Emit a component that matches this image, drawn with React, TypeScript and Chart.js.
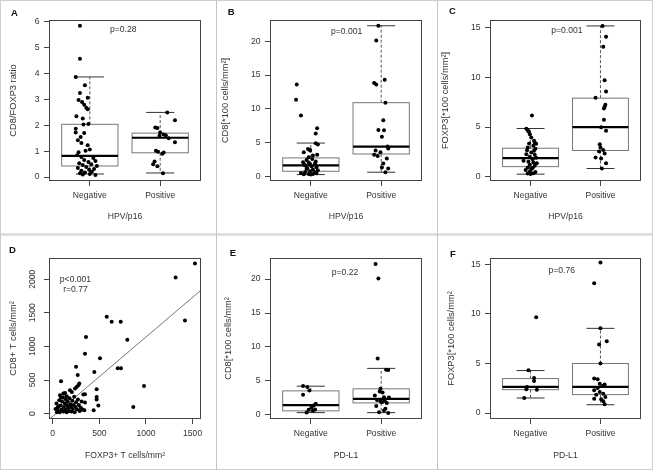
import React, { useEffect, useRef } from 'react';
import { Chart, registerables } from 'chart.js';

Chart.register(...registerables);

const FONT = "'Liberation Sans', Arial, Helvetica, sans-serif";

// ---------- shared ----------
const groupLabels = ['Negative', 'Positive'];
const groupTicks = [1, 2];

// ---------- Panel A : CD8/FOXP3 ratio by HPV/p16 ----------
const aYTicks = [0, 1, 2, 3, 4, 5, 6];
// box stats: [lower whisker, q1, median, q3, upper whisker]
const aBoxNeg = [0.12, 0.43, 0.82, 2.04, 3.87];
const aBoxPos = [0.16, 0.94, 1.52, 1.7, 2.5];
const aNegY = [5.85, 4.57, 3.87, 3.55, 3.25, 3.07, 2.98, 2.9, 2.8, 2.68, 2.62, 2.35, 2.26, 2.05, 2.03, 1.87, 1.72, 1.7, 1.55, 1.42, 1.32, 1.23, 1.07, 1.02, 0.96, 0.84, 0.78, 0.74, 0.66, 0.62, 0.58, 0.54, 0.5, 0.47, 0.43, 0.39, 0.35, 0.31, 0.28, 0.25, 0.21, 0.18, 0.15, 0.12, 0.1, 0.08];
const aNegX = [0.86, 0.86, 0.8, 0.93, 0.86, 0.97, 0.84, 0.89, 0.92, 0.95, 0.97, 0.81, 0.9, 0.98, 0.91, 0.8, 0.8, 0.92, 0.87, 0.83, 0.88, 0.97, 1.0, 0.94, 0.84, 0.82, 0.88, 1.05, 0.92, 1.08, 0.98, 0.85, 1.02, 0.9, 1.1, 0.95, 0.83, 1.06, 0.99, 0.88, 1.03, 0.93, 0.86, 1.0, 0.9, 1.08];
const aPosY = [2.5, 2.2, 1.92, 1.9, 1.72, 1.65, 1.62, 1.6, 1.5, 1.35, 1.02, 0.98, 0.95, 0.9, 0.6, 0.5, 0.42, 0.15];
const aPosX = [2.1, 2.21, 1.93, 1.96, 2.0, 2.05, 2.08, 1.99, 2.12, 2.21, 1.94, 1.97, 2.05, 2.03, 1.92, 1.9, 1.96, 2.04];

// ---------- Panel B : CD8 by HPV/p16 ----------
const bYTicks = [0, 5, 10, 15, 20];
const bBoxNeg = [0.25, 0.74, 1.6, 2.72, 4.92];
const bBoxPos = [0.6, 3.3, 4.38, 10.9, 22.3];
const bNegY = [13.6, 11.35, 9.0, 7.1, 6.35, 4.9, 4.7, 4.05, 3.9, 3.56, 3.8, 3.07, 3.2, 2.82, 2.57, 2.4, 2.2, 2.07, 2.05, 1.83, 1.9, 1.7, 1.58, 1.5, 1.33, 1.2, 1.09, 1.0, 0.9, 0.74, 0.64, 0.59, 0.5, 0.45, 0.35, 0.35, 0.3, 0.25];
const bNegX = [0.8, 0.79, 0.86, 1.09, 1.07, 1.07, 1.1, 0.96, 0.99, 0.9, 0.99, 1.03, 1.09, 0.97, 1.02, 0.94, 1.07, 0.89, 0.97, 0.99, 1.06, 0.91, 0.92, 1.01, 1.08, 0.95, 0.94, 1.03, 1.1, 0.99, 0.92, 1.06, 0.86, 1.08, 0.97, 1.03, 0.9, 1.0];
const bPosY = [22.3, 20.1, 14.3, 13.8, 13.6, 10.9, 8.3, 6.85, 6.8, 5.85, 4.4, 4.1, 3.8, 3.55, 3.2, 3.0, 2.65, 1.9, 1.3, 1.15, 0.6];
const bPosX = [1.96, 1.93, 2.05, 1.9, 1.93, 2.06, 2.03, 1.96, 2.04, 2.01, 2.09, 2.1, 1.92, 1.99, 1.9, 1.95, 2.08, 2.03, 2.01, 2.1, 2.06];

// ---------- Panel C : FOXP3 by HPV/p16 ----------
const cYTicks = [0, 5, 10, 15];
const cBoxNeg = [0.24, 1.0, 1.85, 2.86, 4.85];
const cBoxPos = [0.81, 2.63, 4.98, 7.91, 15.2];
const cNegY = [6.16, 4.82, 4.7, 4.55, 4.28, 3.94, 3.6, 3.43, 3.33, 3.3, 3.1, 2.93, 2.8, 2.66, 2.6, 2.42, 2.26, 2.2, 1.99, 1.9, 1.75, 1.59, 1.5, 1.41, 1.35, 1.18, 1.1, 0.91, 0.85, 0.75, 0.65, 0.51, 0.45, 0.34, 0.3, 0.25];
const cNegX = [1.02, 0.94, 0.96, 0.97, 0.99, 1.01, 1.05, 1.06, 0.98, 1.08, 1.04, 0.96, 1.07, 0.95, 1.05, 1.01, 0.94, 1.06, 0.99, 1.08, 1.03, 0.9, 0.97, 1.04, 1.09, 0.99, 1.06, 0.96, 1.03, 1.01, 0.93, 0.99, 1.07, 1.04, 0.96, 1.0];
const cPosY = [15.2, 14.1, 13.1, 9.73, 8.59, 7.95, 7.24, 7.04, 6.87, 5.72, 4.98, 4.61, 3.27, 2.93, 2.69, 2.53, 2.32, 1.92, 1.82, 1.35, 0.81];
const cPosX = [2.03, 2.08, 2.04, 2.06, 2.08, 1.93, 2.07, 2.06, 2.05, 2.05, 2.01, 2.08, 1.99, 2.0, 2.04, 1.98, 2.06, 1.93, 2.01, 2.08, 2.02];

// ---------- Panel D : CD8+ vs FOXP3+ scatter ----------
const dXTicks = [0, 500, 1000, 1500];
const dYTicks = [0, 500, 1000, 1500, 2000];
const dX = [1525, 1318, 1418, 579, 632, 729, 800, 357, 346, 507, 250, 268, 446, 697, 732, 89, 979, 864, 471, 471, 471, 489, 439, 346, 328, 346, 339, 274, 257, 239, 285, 185, 132, 114, 78,
  40, 55, 60, 70, 75, 85, 95, 100, 110, 115, 120, 130, 135, 140, 150, 155, 160, 165, 175, 180, 190, 195, 200, 210, 215, 225, 230, 235, 245, 250, 260, 270, 280, 290, 300, 310, 320, 60, 90, 30, 45, 205, 150, 125];
const dY = [2235, 2025, 1385, 1440, 1365, 1365, 1100, 1140, 890, 825, 697, 576, 621, 676, 676, 482, 412, 99, 363, 248, 209, 119, 49, 288, 283, 164, 49, 422, 397, 373, 447, 348, 307, 298, 273,
  150, 90, 40, 200, 20, 120, 60, 180, 240, 30, 100, 150, 60, 210, 20, 120, 180, 80, 40, 230, 140, 100, 30, 190, 70, 130, 250, 20, 100, 170, 60, 210, 130, 40, 90, 180, 60, 110, 240, 70, 20, 320, 260, 300];
const dRegIntercept = -40;
const dRegSlope = 1.18;

// ---------- Panel E : CD8 by PD-L1 ----------
const eYTicks = [0, 5, 10, 15, 20];
const eBoxNeg = [0.34, 0.6, 1.45, 3.54, 4.23];
const eBoxPos = [0.34, 1.77, 2.36, 3.84, 6.85];
const eNegY = [4.24, 4.1, 3.6, 2.96, 1.65, 1.4, 1.1, 0.8, 0.75, 0.6, 0.35];
const eNegX = [0.89, 0.95, 0.98, 0.89, 1.07, 1.04, 1.01, 1.06, 0.97, 1.03, 0.94];
const ePosY = [22.2, 20.1, 8.3, 6.65, 6.6, 3.84, 3.45, 3.3, 2.86, 2.6, 2.55, 2.2, 2.0, 2.1, 1.85, 1.75, 1.3, 0.9, 0.65, 0.4, 0.3];
const ePosX = [1.92, 1.96, 1.95, 2.07, 2.1, 1.99, 1.98, 2.02, 1.91, 2.04, 2.11, 1.94, 1.99, 2.05, 2.01, 2.08, 1.93, 2.06, 2.04, 1.97, 2.1];

// ---------- Panel F : FOXP3 by PD-L1 ----------
const fYTicks = [0, 5, 10, 15];
const fBoxNeg = [1.52, 2.36, 2.64, 3.48, 4.29];
const fBoxPos = [0.84, 1.86, 2.64, 5.0, 8.55];
const fNegY = [9.66, 4.32, 3.55, 3.24, 2.64, 2.4, 2.36, 1.52];
const fNegX = [1.08, 0.97, 1.05, 1.05, 0.95, 0.94, 1.09, 0.91];
const fPosY = [15.2, 13.1, 8.55, 7.26, 6.93, 5.0, 3.48, 3.41, 2.97, 2.74, 2.87, 2.53, 2.3, 2.13, 1.96, 1.86, 1.62, 1.45, 1.39, 1.18, 0.88];
const fPosX = [2.0, 1.91, 2.0, 2.09, 1.98, 2.0, 1.91, 1.96, 1.99, 2.03, 2.06, 1.96, 1.91, 1.99, 2.04, 1.94, 2.07, 1.91, 2.01, 2.04, 2.06];

// ---------- layout helpers ----------
type Spec = {
  key: string;
  letter: string;
  letterPos: [number, number];
  cell: [number, number, number, number];
  box: [number, number, number, number];
  xRange: [number, number];
  yRange: [number, number];
  xTicks: number[];
  xLabel: (v: number) => string;
  yTicks: number[];
  yRot?: boolean;
  xTitle: string;
  xTitleY: number;
  yTitle: string;
  yTitleX: number;
  boxes: number[][];
  series: { x: number[]; y: number[] }[];
  notes: { text: string; x: number; y: number }[];
  reg?: [number, number];
};

const catLabel = (v: number) => groupLabels[groupTicks.indexOf(v)] ?? '';
const numLabel = (v: number) => String(v);

const COL1: [number, number] = [0, 216];
const COL2: [number, number] = [216, 221];
const COL3: [number, number] = [437, 216];
const ROW1: [number, number] = [0, 235];
const ROW2: [number, number] = [235, 235];

const PANELS: Spec[] = [
  {
    key: 'A', letter: 'A', letterPos: [14.5, 13],
    cell: [COL1[0], ROW1[0], COL1[1], ROW1[1]], box: [49, 20, 201, 181],
    xRange: [0.42, 2.58], yRange: [-0.15, 6.07],
    xTicks: groupTicks, xLabel: catLabel, yTicks: aYTicks,
    xTitle: 'HPV/p16', xTitleY: 216.7, yTitle: 'CD8/FOXP3 ratio', yTitleX: 13.5,
    boxes: [aBoxNeg, aBoxPos], series: [{ x: aNegX, y: aNegY }, { x: aPosX, y: aPosY }],
    notes: [{ text: 'p=0.28', x: 1.475, y: 5.71 }],
  },
  {
    key: 'B', letter: 'B', letterPos: [231.3, 12.5],
    cell: [COL2[0], ROW1[0], COL2[1], ROW1[1]], box: [270, 20, 422, 181],
    xRange: [0.42, 2.58], yRange: [-0.7, 23.15],
    xTicks: groupTicks, xLabel: catLabel, yTicks: bYTicks,
    xTitle: 'HPV/p16', xTitleY: 216.7, yTitle: 'CD8[*100 cells/mm²]', yTitleX: 225,
    boxes: [bBoxNeg, bBoxPos], series: [{ x: bNegX, y: bNegY }, { x: bPosX, y: bPosY }],
    notes: [{ text: 'p=0.001', x: 1.51, y: 21.5 }],
  },
  {
    key: 'C', letter: 'C', letterPos: [452.5, 11.7],
    cell: [COL3[0], ROW1[0], COL3[1], ROW1[1]], box: [490, 20, 641, 181],
    xRange: [0.42, 2.58], yRange: [-0.45, 15.8],
    xTicks: groupTicks, xLabel: catLabel, yTicks: cYTicks,
    xTitle: 'HPV/p16', xTitleY: 216.7, yTitle: 'FOXP3[*100 cells/mm²]', yTitleX: 445.5,
    boxes: [cBoxNeg, cBoxPos], series: [{ x: cNegX, y: cNegY }, { x: cPosX, y: cPosY }],
    notes: [{ text: 'p=0.001', x: 1.52, y: 14.69 }],
  },
  {
    key: 'D', letter: 'D', letterPos: [12.5, 250.5],
    cell: [COL1[0], ROW2[0], COL1[1], ROW2[1]], box: [49, 258, 201, 419],
    xRange: [-40, 1590], yRange: [-80, 2315],
    xTicks: dXTicks, xLabel: numLabel, yTicks: dYTicks, yRot: true,
    xTitle: 'FOXP3+ T cells/mm²', xTitleY: 455.7, yTitle: 'CD8+ T cells/mm²', yTitleX: 13.5,
    boxes: [], series: [{ x: dX, y: dY }],
    notes: [{ text: 'p<0.001', x: 244, y: 1988 }, { text: 'r=0.77', x: 244, y: 1839 }],
    reg: [dRegIntercept, dRegSlope],
  },
  {
    key: 'E', letter: 'E', letterPos: [233, 253.5],
    cell: [COL2[0], ROW2[0], COL2[1], ROW2[1]], box: [270, 258, 422, 419],
    xRange: [0.42, 2.58], yRange: [-0.6, 23.1],
    xTicks: groupTicks, xLabel: catLabel, yTicks: eYTicks,
    xTitle: 'PD-L1', xTitleY: 455.7, yTitle: 'CD8[*100 cells/mm²', yTitleX: 228.3,
    boxes: [eBoxNeg, eBoxPos], series: [{ x: eNegX, y: eNegY }, { x: ePosX, y: ePosY }],
    notes: [{ text: 'p=0.22', x: 1.485, y: 21.0 }],
  },
  {
    key: 'F', letter: 'F', letterPos: [452.8, 254],
    cell: [COL3[0], ROW2[0], COL3[1], ROW2[1]], box: [490, 258, 641, 419],
    xRange: [0.42, 2.58], yRange: [-0.6, 15.65],
    xTicks: groupTicks, xLabel: catLabel, yTicks: fYTicks,
    xTitle: 'PD-L1', xTitleY: 455.7, yTitle: 'FOXP3[*100 cells/mm²', yTitleX: 451,
    boxes: [fBoxNeg, fBoxPos], series: [{ x: fNegX, y: fNegY }, { x: fPosX, y: fPosY }],
    notes: [{ text: 'p=0.76', x: 1.446, y: 14.34 }],
  },
];

const TICK_SIZE = 8.6;
const XTITLE_SIZE = 8.6;
const YTITLE_SIZE = 9.3;
const TEXT = '#333';

const decoPlugin = {
  id: 'deco',
  beforeDatasetsDraw(chart: any, _a: any, opts: any) {
    const { ctx } = chart;
    const xs = chart.scales.x;
    const ys = chart.scales.y;
    const line = (x1: number, y1: number, x2: number, y2: number) => {
      ctx.beginPath();
      ctx.moveTo(x1, y1);
      ctx.lineTo(x2, y2);
      ctx.stroke();
    };
    (opts.boxes || []).forEach((b: number[], i: number) => {
      const pos = groupTicks[i];
      const cx = xs.getPixelForValue(pos);
      const hw = xs.getPixelForValue(pos + 0.4) - cx;
      const cw = hw / 2;
      const [lo, q1, med, q3, hi] = b.map((v) => ys.getPixelForValue(v));
      ctx.save();
      ctx.lineWidth = 1;
      ctx.strokeStyle = '#555';
      ctx.setLineDash([3, 2]);
      line(cx, q3, cx, hi);
      line(cx, q1, cx, lo);
      ctx.setLineDash([]);
      ctx.strokeStyle = '#333';
      line(cx - cw, hi, cx + cw, hi);
      line(cx - cw, lo, cx + cw, lo);
      ctx.strokeStyle = '#777';
      ctx.strokeRect(cx - hw, q3, hw * 2, q1 - q3);
      ctx.strokeStyle = '#000';
      ctx.lineWidth = 2.2;
      line(cx - hw, med, cx + hw, med);
      ctx.restore();
    });
  },
  afterDraw(chart: any, _a: any, opts: any) {
    const { ctx, chartArea } = chart;
    const xs = chart.scales.x;
    const ys = chart.scales.y;
    ctx.save();
    ctx.strokeStyle = '#444';
    ctx.lineWidth = 1;
    ctx.strokeRect(
      Math.round(chartArea.left) + 0.5,
      Math.round(chartArea.top) + 0.5,
      Math.round(chartArea.right - chartArea.left) - 1,
      Math.round(chartArea.bottom - chartArea.top) - 1
    );
    ctx.fillStyle = TEXT;
    ctx.textAlign = 'center';
    ctx.textBaseline = 'middle';
    ctx.font = `${TICK_SIZE}px ${FONT}`;
    (opts.notes || []).forEach((n: any) => {
      ctx.fillText(n.text, xs.getPixelForValue(n.x), ys.getPixelForValue(n.y));
    });
    ctx.fillStyle = '#111';
    ctx.font = `bold 9.5px ${FONT}`;
    ctx.fillText(opts.letter, opts.lx, opts.ly);
    ctx.restore();
  },
};

function makeConfig(s: Spec): any {
  const [cx, cy, cw, ch] = s.cell;
  const [bl, bt, br, bb] = s.box;
  const tickFont = { family: FONT, size: TICK_SIZE };
  const datasets: any[] = s.series.map((sr) => ({
    type: 'scatter',
    data: sr.x.map((x, i) => ({ x, y: sr.y[i] })),
    backgroundColor: '#000',
    borderColor: '#000',
    borderWidth: 0,
    pointRadius: 2,
    pointHoverRadius: 2,
    order: 1,
  }));
  if (s.reg) {
    const [a, b] = s.reg;
    datasets.push({
      type: 'line',
      data: s.xRange.map((x) => ({ x, y: a + b * x })),
      borderColor: '#777',
      borderWidth: 1,
      pointRadius: 0,
      fill: false,
      order: 2,
    });
  }
  const xLh = XTITLE_SIZE * 1.2;
  const yLh = YTITLE_SIZE * 1.2;
  return {
    type: 'scatter',
    data: { datasets },
    plugins: [decoPlugin],
    options: {
      animation: false,
      responsive: false,
      maintainAspectRatio: false,
      devicePixelRatio: 1,
      events: [],
      layout: { padding: { left: 0, top: bt - cy, right: cx + cw - br, bottom: 0 } },
      plugins: {
        legend: { display: false },
        tooltip: { enabled: false },
        deco: {
          boxes: s.boxes,
          notes: s.notes,
          letter: s.letter,
          lx: s.letterPos[0] - cx,
          ly: s.letterPos[1] - cy,
        },
      },
      scales: {
        x: {
          type: 'linear',
          min: s.xRange[0],
          max: s.xRange[1],
          afterBuildTicks: (sc: any) => {
            sc.ticks = s.xTicks.map((v) => ({ value: v }));
          },
          afterFit: (sc: any) => {
            sc.height = ch - (bb - cy);
          },
          ticks: {
            font: tickFont,
            color: TEXT,
            padding: 4,
            autoSkip: false,
            minRotation: 0,
            maxRotation: 0,
            callback: (v: any) => s.xLabel(Number(v)),
          },
          grid: { display: true, drawOnChartArea: false, drawTicks: true, tickLength: 5, color: '#444', lineWidth: 1 },
          border: { display: false },
          title: {
            display: true,
            text: s.xTitle,
            color: TEXT,
            font: { family: FONT, size: XTITLE_SIZE },
            padding: { top: 0, bottom: ch - (s.xTitleY - cy) - xLh / 2 },
          },
        },
        y: {
          type: 'linear',
          min: s.yRange[0],
          max: s.yRange[1],
          afterBuildTicks: (sc: any) => {
            sc.ticks = s.yTicks.map((v) => ({ value: v }));
          },
          afterFit: (sc: any) => {
            sc.width = bl - cx;
          },
          ticks: s.yRot
            ? {
                font: tickFont,
                color: TEXT,
                padding: 1.5,
                autoSkip: false,
                minRotation: 90,
                maxRotation: 90,
                crossAlign: 'center',
                callback: (v: any) => String(v),
              }
            : {
                font: tickFont,
                color: TEXT,
                padding: 4.5,
                autoSkip: false,
                callback: (v: any) => String(v),
              },
          grid: { display: true, drawOnChartArea: false, drawTicks: true, tickLength: 5, color: '#444', lineWidth: 1 },
          border: { display: false },
          title: {
            display: true,
            text: s.yTitle,
            color: TEXT,
            font: { family: FONT, size: YTITLE_SIZE },
            padding: { top: s.yTitleX - cx - yLh / 2, bottom: 0 },
          },
        },
      },
    },
  };
}

function PanelChart({ spec }: { spec: Spec }) {
  const ref = useRef<HTMLCanvasElement>(null);
  useEffect(() => {
    if (!ref.current) return;
    const chart = new Chart(ref.current, makeConfig(spec));
    return () => chart.destroy();
  }, [spec]);
  const [x, y, w, h] = spec.cell;
  return (
    <canvas
      ref={ref}
      width={w}
      height={h}
      style={{ position: 'absolute', left: x, top: y, width: w, height: h }}
    />
  );
}

export default function App() {
  return (
    <div
      style={{
        position: 'fixed',
        left: 0,
        top: 0,
        width: 653,
        height: 470,
        background: '#fff',
        overflow: 'hidden',
      }}
    >
      <div style={{ position: 'absolute', left: 0, top: 233, width: 653, height: 3, background: '#e0e0e0' }} />
      <div style={{ position: 'absolute', left: 216, top: 0, width: 1, height: 470, background: '#c4c4c4' }} />
      <div style={{ position: 'absolute', left: 437, top: 0, width: 1, height: 470, background: '#c4c4c4' }} />
      <div
        style={{
          position: 'absolute',
          left: 0,
          top: 0,
          width: 653,
          height: 470,
          boxSizing: 'border-box',
          border: '1px solid #cfcfcf',
        }}
      />
      {PANELS.map((p) => (
        <PanelChart key={p.key} spec={p} />
      ))}
    </div>
  );
}
